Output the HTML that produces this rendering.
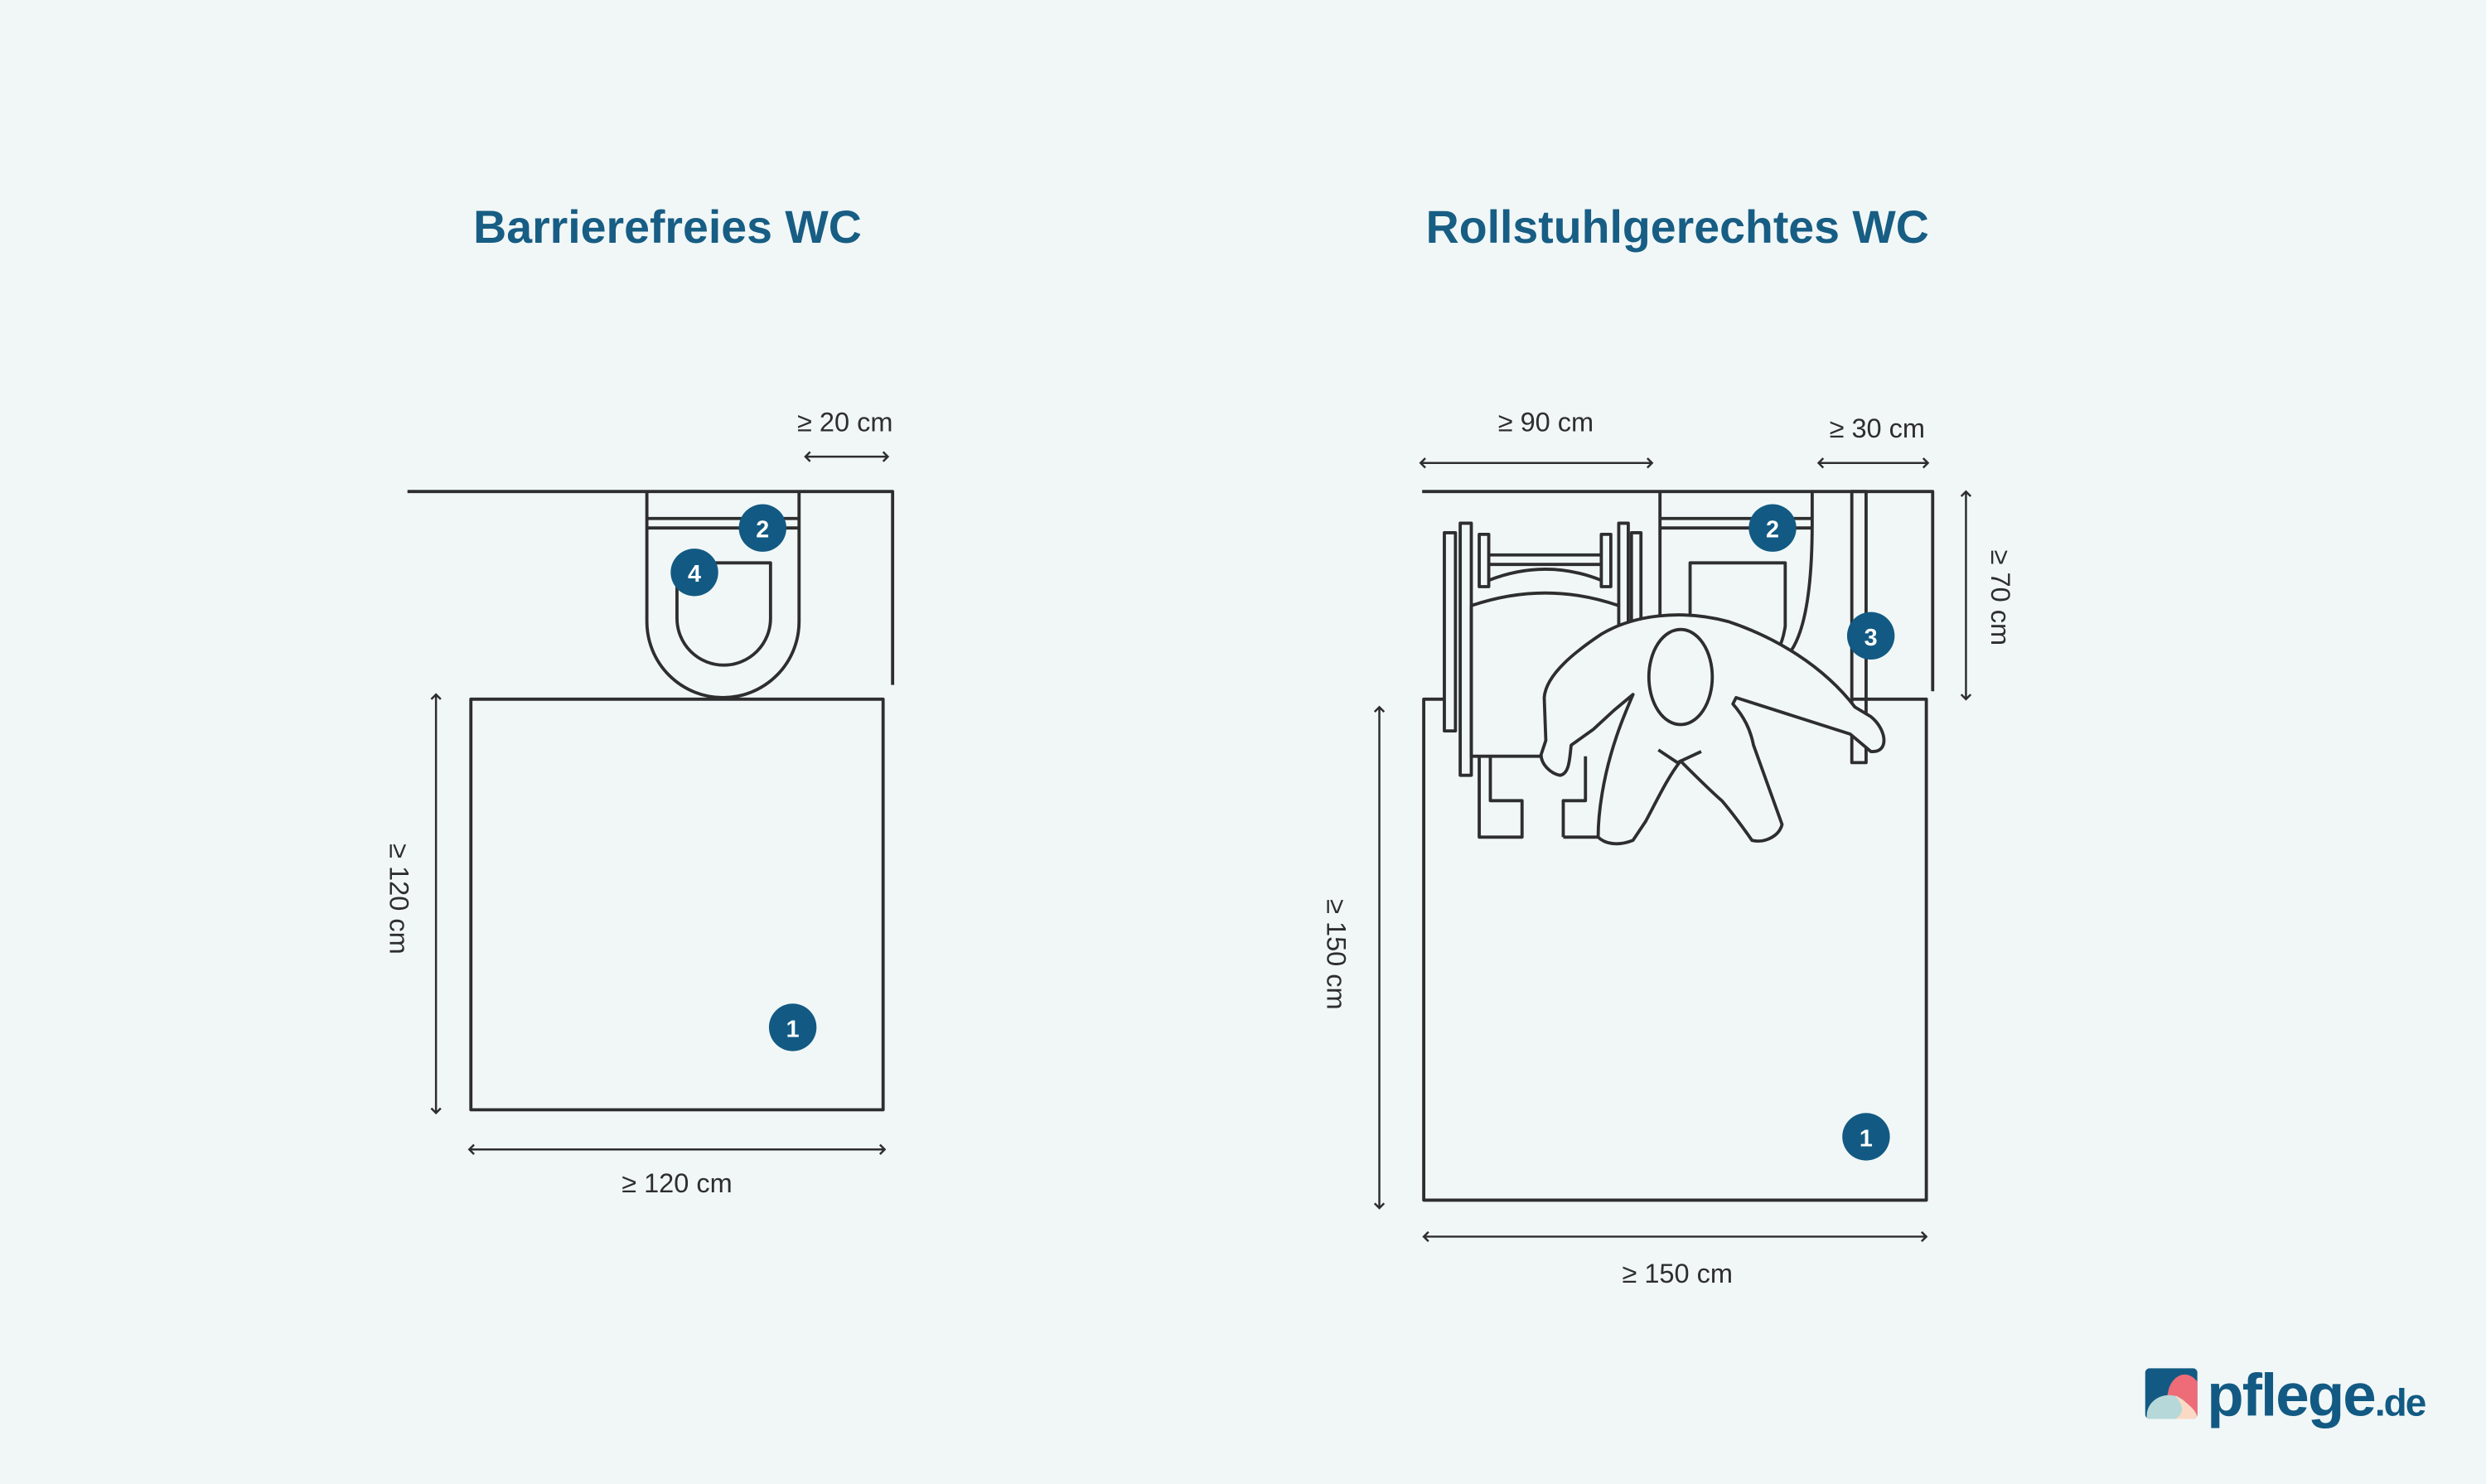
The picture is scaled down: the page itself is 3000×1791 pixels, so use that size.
<!DOCTYPE html>
<html><head><meta charset="utf-8"><style>
html,body{margin:0;padding:0;background:#f1f7f7;}
svg{display:block;}
</style></head><body>
<svg width="3000" height="1791" viewBox="0 0 1568 936" xmlns="http://www.w3.org/2000/svg">
<rect width="1568" height="936" fill="#f1f7f7"/>
<g font-family="Liberation Sans, sans-serif">
<text x="421" y="153" text-anchor="middle" font-size="29" font-weight="bold" fill="#175d84">Barrierefreies WC</text>
<text x="1058" y="153" text-anchor="middle" font-size="29" font-weight="bold" fill="#175d84">Rollstuhlgerechtes WC</text>
</g>
<g stroke="#2e2e2e" stroke-width="2" fill="none" stroke-linejoin="round">
<!-- left -->
<path d="M257 310 L563 310 L563 432"/>
<path d="M408 310 L408 392 A48 48 0 0 0 504 392 L504 310"/>
<path d="M408 327 L504 327 M408 333 L504 333"/>
<path d="M427 355 L486 355 L486 390 A29.5 29.5 0 0 1 427 390 Z"/>
<rect x="297" y="441" width="260" height="259"/>
<!-- right -->
<path d="M897 310 L1219 310 L1219 436"/>
<path d="M1047 310 L1047 420 M1143 310 L1143 330 Q1143 390 1130 410"/>
<path d="M1047 327 L1143 327 M1047 333 L1143 333"/>
<path d="M1066 411 L1066 355 L1126 355 L1126 395 Q1124 408 1118 415"/>
<rect x="1168" y="310" width="9" height="171"/>
<path d="M1168 441 L1215 441 L1215 757 L898 757 L898 441 L911 441"/>
<!-- wheelchair -->
<rect x="911" y="336" width="7" height="125"/>
<rect x="921" y="330" width="7" height="159"/>
<rect x="1021" y="330" width="6" height="80"/>
<rect x="1029" y="336" width="6" height="60"/>
<rect x="933" y="337" width="6" height="33"/>
<rect x="1010" y="337" width="6" height="33"/>
<path d="M939 350 L1010 350 M939 356 L1010 356"/>
<path d="M939 366 Q975 352 1010 366"/>
<path d="M928 382 Q975 366 1021 382"/>
<path d="M928 382 L928 477 L985 477"/>
<path d="M933 477 L933 528 L960 528 L960 505 L940 505 L940 477"/>
<path d="M986 528 L1008 528 M986 528 L986 505 L1000 505 L1000 477"/>
<!-- person -->
<path fill="#f1f7f7" d="M974 440 C975 425 995 410 1010 400 C1030 388 1060 384 1090 392 C1120 402 1150 420 1170 446 L1180 452 C1190 460 1192 475 1180 474 L1167 463 L1095 440 L1093 444 C1100 452 1104 460 1106 470 L1124 520 C1122 528 1112 532 1105 530 C1098 520 1092 512 1086 505 C1078 498 1070 490 1060 480 C1052 490 1045 505 1038 518 L1030 530 C1020 534 1012 532 1008 528 C1008 510 1012 490 1016 476 C1020 462 1024 452 1030 438 L1018 448 L1005 460 L991 470 C990 478 990 488 984 489 C978 488 972 482 972 476 L975 467 Z"/>
<path d="M1046 473 L1058 481 L1073 474"/>
<ellipse cx="1060" cy="427" rx="20" ry="30" fill="#f1f7f7"/>
</g>
<!-- dimension lines -->
<g stroke="#2e2e2e" stroke-width="1.3" fill="none">
<path d="M508 288 L560 288 M511 285 L508 288 L511 291 M557 285 L560 288 L557 291"/>
<path d="M275 438 L275 702 M272 441 L275 438 L278 441 M272 699 L275 702 L278 699"/>
<path d="M296 725 L558 725 M299 722 L296 725 L299 728 M555 722 L558 725 L555 728"/>
<path d="M896 292 L1042 292 M899 289 L896 292 L899 295 M1039 289 L1042 292 L1039 295"/>
<path d="M1147 292 L1216 292 M1150 289 L1147 292 L1150 295 M1213 289 L1216 292 L1213 295"/>
<path d="M1240 310 L1240 441 M1237 313 L1240 310 L1243 313 M1237 438 L1240 441 L1243 438"/>
<path d="M870 446 L870 762 M867 449 L870 446 L873 449 M867 759 L870 762 L873 759"/>
<path d="M898 780 L1215 780 M901 777 L898 780 L901 783 M1212 777 L1215 780 L1212 783"/>
</g>
<g font-family="Liberation Sans, sans-serif" font-size="17" fill="#2e2e2e" text-anchor="middle">
<text x="533" y="272">≥ 20 cm</text>
<text x="427" y="752">≥ 120 cm</text>
<text x="975" y="272">≥ 90 cm</text>
<text x="1184" y="276">≥ 30 cm</text>
<text x="1058" y="809">≥ 150 cm</text>
<text transform="translate(246 567) rotate(90)">≥ 120 cm</text>
<text transform="translate(1256 377) rotate(90)">≥ 70 cm</text>
<text transform="translate(837 602) rotate(90)">≥ 150 cm</text>
</g>
<!-- badges -->
<g font-family="Liberation Sans, sans-serif" font-size="15" font-weight="bold" fill="#fff" text-anchor="middle">
<circle cx="481" cy="333" r="15" fill="#125a83"/><text x="481" y="339">2</text>
<circle cx="438" cy="361" r="15" fill="#125a83"/><text x="438" y="367">4</text>
<circle cx="500" cy="648" r="15" fill="#125a83"/><text x="500" y="654">1</text>
<circle cx="1118" cy="333" r="15" fill="#125a83"/><text x="1118" y="339">2</text>
<circle cx="1180" cy="401" r="15" fill="#125a83"/><text x="1180" y="407">3</text>
<circle cx="1177" cy="717" r="15" fill="#125a83"/><text x="1177" y="723">1</text>
</g>
<!-- logo -->
<defs><clipPath id="lc"><rect x="1353" y="863" width="33" height="32" rx="3"/></clipPath></defs>
<g clip-path="url(#lc)">
<rect x="1353" y="863" width="33" height="32" fill="#125a83"/>
<ellipse cx="1378" cy="882" rx="11" ry="15" fill="#ee6b78"/>
<ellipse cx="1368" cy="893" rx="14" ry="13" fill="#b6d8d9"/>
<path d="M1372 880 C1380 885 1386 890 1386 895 L1372 895 C1380 890 1375 885 1372 880 Z" fill="#fbd9c4"/>
</g>
<text x="1392" y="893" font-family="Liberation Sans, sans-serif" font-size="38" font-weight="bold" fill="#125a83" letter-spacing="-1">pflege<tspan font-size="24">.de</tspan></text>
</svg>
</body></html>
